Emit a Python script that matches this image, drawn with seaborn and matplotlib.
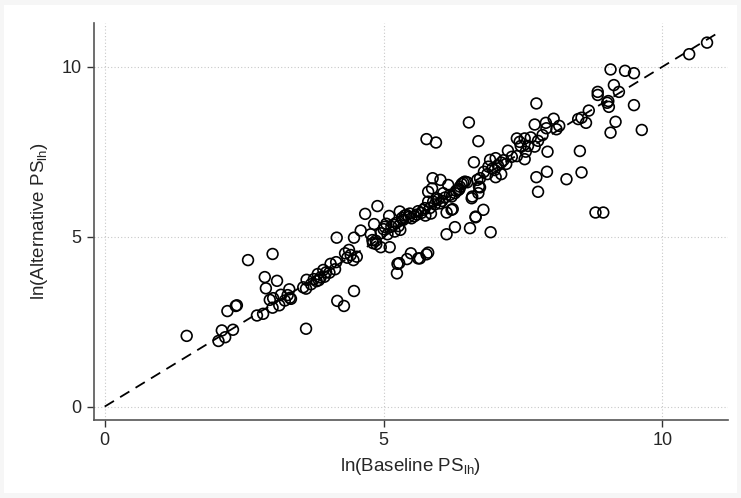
import numpy as np
import pandas as pd
import matplotlib
matplotlib.use("Agg")
import matplotlib.pyplot as plt
from matplotlib.patches import Rectangle
import seaborn as sns

# ── Data ───────────────────────────────────────────────
baseline = [
    1.47, 2.04, 2.10, 2.16, 2.30, 2.20, 2.35, 2.37, 2.57, 2.73, 2.84, 2.87, 2.89,
    3.01, 3.09, 2.96, 3.02, 3.01, 3.13, 3.16, 3.23, 3.28, 3.31, 3.32, 3.34,
    3.56, 3.61, 3.62, 3.61, 3.80, 3.82, 3.84, 3.92, 3.94, 4.03, 4.05, 4.13, 4.15,
    4.16, 4.17, 4.29, 4.31, 4.38, 4.41, 4.46, 4.47, 4.47, 4.52, 3.70, 3.75, 3.87,
    3.97, 4.35,
    4.59, 4.67, 4.77, 4.81, 4.83, 4.86, 4.89, 4.95, 4.95, 5.02, 5.07, 5.10, 5.11,
    5.14, 5.24, 5.28, 5.29, 5.30, 5.35, 5.42, 5.49, 5.41, 5.50, 4.80, 4.87, 5.00,
    5.18, 5.22, 5.27, 5.38, 5.45, 5.55, 5.33, 5.25, 5.05, 5.20, 5.47,
    5.62, 5.65, 5.77, 5.80, 5.77, 5.94, 5.88, 6.02, 6.16, 5.80, 5.87, 5.95, 6.07,
    6.22, 6.28, 6.34, 6.37, 6.40, 6.43, 6.46, 6.19, 5.80, 5.89, 5.74, 5.83, 5.71,
    6.01, 6.13, 6.22, 6.13, 6.28, 6.24, 5.60, 5.68, 5.75, 5.85, 5.92, 5.98, 6.05,
    6.10, 6.30, 6.36, 6.50, 5.62,
    6.53, 6.70, 6.62, 6.55, 6.65, 6.79, 6.92, 6.58, 6.70, 6.73, 6.65, 6.91, 7.01,
    7.11, 7.20, 6.88, 6.99, 7.11, 7.01, 6.80, 6.68, 6.71, 6.59, 6.73, 6.86, 7.23,
    7.39, 7.44, 7.53, 7.46, 7.53, 7.39, 7.55, 7.05, 7.15, 7.30, 6.95,
    7.64, 7.59, 7.71, 7.77, 7.85, 7.74, 7.71, 7.91, 8.05, 7.92, 8.10, 8.15, 7.94,
    7.74, 7.77, 7.93, 8.28, 8.52, 8.55, 8.49, 8.55, 8.63, 8.68, 8.84, 8.84, 9.01,
    9.04, 9.03, 9.07, 9.16, 9.13, 9.22, 9.07, 9.33, 9.49, 9.49, 9.63, 10.48, 10.80,
    8.80, 8.94,
]
alternative = [
    2.08, 1.93, 2.24, 2.04, 2.26, 2.81, 2.96, 2.98, 4.31, 2.68, 2.73, 3.81, 3.48,
    4.49, 3.70, 3.14, 3.19, 2.91, 2.98, 3.29, 3.12, 3.28, 3.45, 3.20, 3.17,
    3.51, 3.47, 3.73, 2.29, 3.69, 3.90, 3.72, 4.02, 3.82, 3.94, 4.20, 4.04, 4.25,
    4.97, 3.11, 2.96, 4.51, 4.61, 4.46, 4.31, 4.97, 3.40, 4.41, 3.60, 3.75, 3.80,
    3.95, 4.38,
    5.18, 5.67, 5.07, 4.81, 5.37, 4.88, 5.90, 4.69, 5.10, 5.29, 5.07, 5.61, 4.69,
    5.29, 3.92, 4.22, 5.74, 5.20, 5.49, 4.34, 4.51, 5.64, 5.54, 4.90, 4.78, 5.22,
    5.35, 5.40, 5.31, 5.62, 5.58, 5.60, 5.55, 4.20, 5.38, 5.15, 5.68,
    4.36, 4.36, 4.48, 4.53, 7.87, 7.77, 6.72, 6.67, 6.52, 6.32, 6.42, 6.13, 6.28,
    6.18, 6.28, 6.37, 6.47, 6.55, 6.59, 6.62, 6.23, 6.03, 6.03, 5.84, 5.84, 5.79,
    5.98, 5.71, 5.79, 5.07, 5.28, 5.81, 5.65, 5.70, 5.62, 5.68, 5.95, 6.10, 6.05,
    6.15, 6.35, 6.40, 6.60, 5.75,
    8.36, 7.81, 7.19, 5.25, 5.59, 5.79, 5.13, 6.13, 6.28, 6.45, 5.57, 7.26, 7.31,
    7.18, 7.14, 7.06, 6.96, 6.84, 6.75, 6.91, 6.67, 6.47, 6.18, 6.72, 6.84, 7.53,
    7.89, 7.79, 7.89, 7.67, 7.28, 7.37, 7.50, 7.10, 7.25, 7.35, 7.00,
    7.92, 7.67, 7.65, 7.82, 7.99, 8.92, 8.30, 8.35, 8.47, 8.19, 8.16, 8.26, 7.50,
    6.75, 6.32, 6.91, 6.69, 7.52, 6.89, 8.46, 8.50, 8.35, 8.71, 9.26, 9.17, 8.94,
    8.82, 8.99, 8.06, 8.38, 9.46, 9.26, 9.92, 9.88, 9.81, 8.87, 8.14, 10.37, 10.71,
    5.71, 5.71,
]
ticks = [0, 5, 10]
line_end = 11

df = pd.DataFrame({"baseline": baseline, "alternative": alternative})

# ── Style ──────────────────────────────────────────────
sns.set_theme(style="white")
plt.rcParams["font.family"] = ["Liberation Sans", "DejaVu Sans"]
plt.rcParams["mathtext.fontset"] = "custom"
plt.rcParams["mathtext.rm"] = "Liberation Sans"

fig = plt.figure(figsize=(7.41, 4.98), dpi=100, facecolor="#f6f6f6")
fig.patches.append(Rectangle((0.006, 0.01), 0.988, 0.98, transform=fig.transFigure,
                             facecolor="white", edgecolor="none", zorder=-1))
ax = fig.add_axes([0.127, 0.157, 0.855, 0.797])

# ── Plot ───────────────────────────────────────────────
ax.plot([0, line_end], [0, line_end], color="black", linestyle=(0, (6, 4)),
        linewidth=1.3, zorder=2)
sns.scatterplot(data=df, x="baseline", y="alternative", ax=ax, s=60,
                facecolor="none", edgecolor="black", linewidth=1.2, zorder=3)

ax.set_xlim(-0.19, 11.17)
ax.set_ylim(-0.39, 11.29)
ax.set_xticks(ticks)
ax.set_yticks(ticks)
ax.grid(True, linestyle=(0, (1, 2)), color="#c8c8c8", linewidth=0.8)
ax.set_axisbelow(True)

for side in ["top", "right"]:
    ax.spines[side].set_visible(False)
for side in ["left", "bottom"]:
    ax.spines[side].set_color("#555555")
    ax.spines[side].set_linewidth(1.2)
ax.tick_params(axis="both", direction="out", length=5, width=1, color="#333333",
               labelsize=13, pad=4, left=True, bottom=True)

ax.set_xlabel(r"ln(Baseline PS$_{\mathrm{lh}}$)", fontsize=13.5, labelpad=5)
ax.set_ylabel(r"ln(Alternative PS$_{\mathrm{lh}}$)", fontsize=13.5, labelpad=8)

fig.savefig("out.png", dpi=100, facecolor=fig.get_facecolor())
